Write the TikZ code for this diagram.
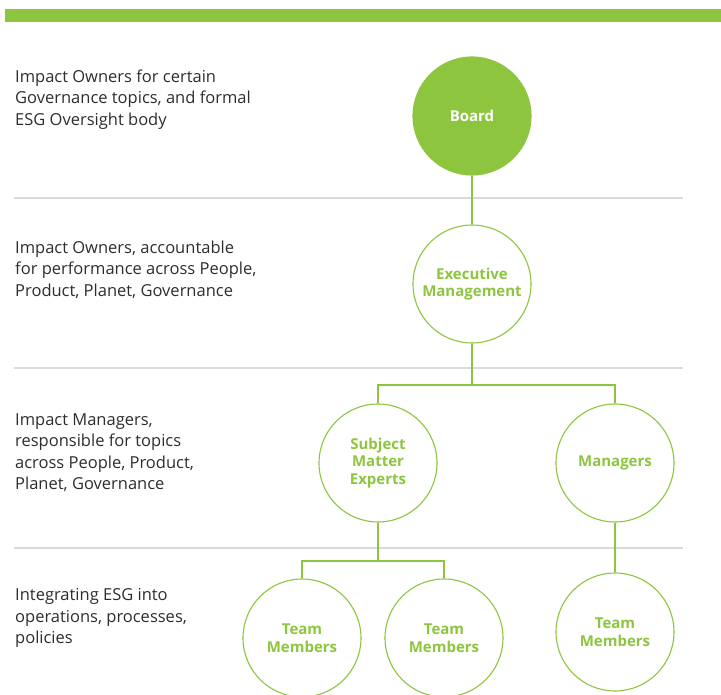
\documentclass[tikz,border=0pt]{standalone}
\usepackage{fontspec}
\setmainfont{Open Sans}
\definecolor{esggreen}{RGB}{142,197,62}
\definecolor{rulegray}{RGB}{218,218,218}
\definecolor{txtgray}{RGB}{45,45,45}
\begin{document}
\begin{tikzpicture}[x=1pt,y=-1pt,
  role/.style={circle,draw=esggreen,line width=1.1pt,minimum size=118pt,inner sep=0pt,
    align=center,font=\bfseries\fontsize{15}{17.5}\selectfont,text=esggreen,fill=white},
  rolefilled/.style={role,fill=esggreen,text=white},
  link/.style={draw=esggreen,line width=1.1pt},
  sep/.style={draw=rulegray,line width=1.2pt},
  desc/.style={anchor=west,align=left,inner sep=0pt,text=txtgray,font=\fontsize{16.5}{21.5}\selectfont}]
\useasboundingbox (0,0) rectangle (721,695);
\fill[esggreen] (5,9) rectangle (721,22);
\draw[sep] (14,198) -- (683,198);
\draw[sep] (14,368) -- (683,368);
\draw[sep] (14,548) -- (683,548);
\node[desc] (d1) at (15,99.5) {Impact Owners for certain\\Governance topics, and formal\\ESG Oversight body};
\node[desc] (d2) at (15,269.5) {Impact Owners, accountable\\for performance across People,\\Product, Planet, Governance};
\node[desc] (d3) at (15,452.5) {Impact Managers,\\responsible for topics\\across People, Product,\\Planet, Governance};
\node[desc] (d4) at (15,618) {Integrating ESG into\\operations, processes,\\policies};
\node[rolefilled] (board) at (472,116) {Board};
\node[role] (exec) at (472,284) {Executive\\Management};
\node[role] (sme) at (378,463) {Subject\\Matter\\Experts};
\node[role] (mgr) at (615,463) {Managers};
\node[role] (t1) at (302,638) {Team\\Members};
\node[role] (t2) at (444,638) {Team\\Members};
\node[role] (t3) at (615,632) {Team\\Members};
\draw[link] (board.south) -- (exec.north);
\coordinate (j1) at (472,385);
\draw[link] (exec.south) -- (j1);
\draw[link] (sme.north) |- (j1) -| (mgr.north);
\coordinate (j2) at (378,561);
\draw[link] (sme.south) -- (j2);
\draw[link] (t1.north) |- (j2) -| (t2.north);
\draw[link] (mgr.south) -- (t3.north);
\end{tikzpicture}
\end{document}
